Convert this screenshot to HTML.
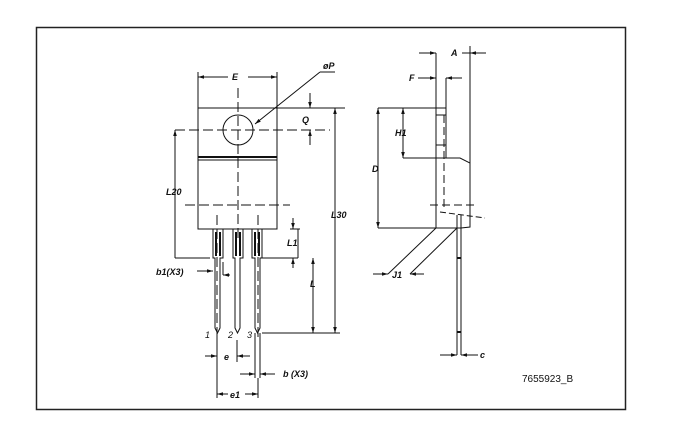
<!DOCTYPE html>
<html><head><style>body{margin:0;background:#fff}svg{display:block}text{font-family:"Liberation Sans",sans-serif;font-style:italic;font-weight:bold;font-size:9px;fill:#111}</style></head><body>
<svg width="677" height="438" viewBox="0 0 677 438" xmlns="http://www.w3.org/2000/svg">
<defs><marker id="a" viewBox="0 0 10 10" refX="10" refY="5" markerWidth="6" markerHeight="6" orient="auto-start-reverse"><path d="M0,2 L10,5 L0,8 z" fill="#111"/></marker></defs>
<rect x="36.5" y="27.5" width="589" height="382" fill="none" stroke="#222" stroke-width="1.5"/>
<g stroke="#111" stroke-width="1" fill="none">
<rect x="198" y="108" width="79" height="121"/>
<line x1="198" y1="157" x2="277" y2="157" stroke-width="2"/>
<line x1="198" y1="160" x2="277" y2="160"/>
<circle cx="238" cy="130" r="15"/>
<line x1="238" y1="88" x2="238" y2="240" stroke-dasharray="10,4"/>
<line x1="175" y1="130" x2="330" y2="130" stroke-dasharray="10,4"/>
<line x1="185" y1="205" x2="290" y2="205" stroke-dasharray="10,4"/>
<line x1="217" y1="215" x2="217" y2="340" stroke-dasharray="10,4"/>
<line x1="258" y1="215" x2="258" y2="340" stroke-dasharray="10,4"/>
<line x1="198" y1="72" x2="198" y2="108"/><line x1="277" y1="72" x2="277" y2="108"/>
<line x1="198" y1="77" x2="228" y2="77" marker-start="url(#a)"/><line x1="248" y1="77" x2="277" y2="77" marker-end="url(#a)"/>
<line x1="255" y1="124" x2="320" y2="72" marker-start="url(#a)"/><line x1="320" y1="72" x2="335" y2="72"/>
<line x1="277" y1="108" x2="345" y2="108"/>
<line x1="310" y1="93" x2="310" y2="108" marker-end="url(#a)"/><line x1="310" y1="145" x2="310" y2="130" marker-end="url(#a)"/>
<line x1="175" y1="130" x2="175" y2="258" marker-start="url(#a)"/>
<line x1="175" y1="258" x2="210" y2="258"/>
<line x1="335" y1="108" x2="335" y2="333" marker-start="url(#a)" marker-end="url(#a)"/>
<line x1="262" y1="333" x2="340" y2="333"/>
<path d="M213,229 V258 H215 V328 L217.5,333 L220,328 V258 H223 V229"/>
<path d="M233,229 V258 H235 V328 L237.5,333 L240,328 V258 H243 V229"/>
<path d="M252,229 V258 H255 V328 L257.5,333 L260,328 V258 H262 V229"/>
<line x1="216" y1="232" x2="216" y2="256" stroke-width="2"/><line x1="220" y1="232" x2="220" y2="256" stroke-width="2"/>
<line x1="236" y1="232" x2="236" y2="256" stroke-width="2"/><line x1="240" y1="232" x2="240" y2="256" stroke-width="2"/>
<line x1="255" y1="232" x2="255" y2="256" stroke-width="2"/><line x1="259" y1="232" x2="259" y2="256" stroke-width="2"/>
<line x1="262" y1="258" x2="298" y2="258"/>
<line x1="298" y1="229" x2="298" y2="258"/>
<line x1="290" y1="229" x2="300" y2="229"/>
<line x1="293" y1="218" x2="293" y2="229" marker-end="url(#a)"/><line x1="293" y1="268" x2="293" y2="258" marker-end="url(#a)"/>
<line x1="313" y1="258" x2="313" y2="333" marker-start="url(#a)" marker-end="url(#a)"/>
<line x1="197" y1="271" x2="213" y2="271" marker-end="url(#a)"/>
<line x1="223" y1="262" x2="223" y2="275"/><line x1="223" y1="275" x2="230" y2="275" marker-start="url(#a)"/>
<line x1="237" y1="340" x2="237" y2="362"/>
<line x1="205" y1="356" x2="217" y2="356" marker-end="url(#a)"/><line x1="250" y1="356" x2="237" y2="356" marker-end="url(#a)"/>
<line x1="255" y1="333" x2="255" y2="378"/><line x1="260" y1="333" x2="260" y2="378"/>
<line x1="240" y1="374" x2="255" y2="374" marker-end="url(#a)"/><line x1="275" y1="374" x2="260" y2="374" marker-end="url(#a)"/>
<line x1="217" y1="333" x2="217" y2="398"/><line x1="258" y1="378" x2="258" y2="398"/>
<line x1="217" y1="394" x2="228" y2="394" marker-start="url(#a)"/><line x1="245" y1="394" x2="258" y2="394" marker-end="url(#a)"/>
<path d="M436,53 V228 H461 L470,227 V163 L460,158 L446,158 V108"/>
<line x1="436" y1="108" x2="446" y2="108"/>
<line x1="446" y1="78" x2="446" y2="158"/>
<line x1="470" y1="46" x2="470" y2="163"/>
<line x1="444" y1="115" x2="444" y2="210" stroke-dasharray="8,4"/>
<line x1="436" y1="115" x2="446" y2="115"/><line x1="436" y1="145" x2="446" y2="145"/>
<line x1="430" y1="205" x2="478" y2="205" stroke-dasharray="8,4"/>
<line x1="440" y1="212" x2="485" y2="218" stroke-dasharray="6,3"/>
<line x1="457" y1="215" x2="457" y2="355"/><line x1="461" y1="215" x2="461" y2="355"/>
<line x1="457" y1="258" x2="461" y2="258" stroke-width="2"/><line x1="457" y1="332" x2="461" y2="332" stroke-width="2"/>
<line x1="419" y1="53" x2="436" y2="53" marker-end="url(#a)"/><line x1="486" y1="53" x2="470" y2="53" marker-end="url(#a)"/><line x1="462" y1="53" x2="470" y2="53"/>
<line x1="418" y1="78" x2="436" y2="78" marker-end="url(#a)"/><line x1="462" y1="78" x2="446" y2="78" marker-end="url(#a)"/>
<line x1="378" y1="108" x2="436" y2="108"/>
<line x1="378" y1="108" x2="378" y2="228" marker-start="url(#a)" marker-end="url(#a)"/>
<line x1="378" y1="228" x2="436" y2="228"/>
<line x1="403" y1="108" x2="403" y2="158" marker-start="url(#a)" marker-end="url(#a)"/>
<line x1="403" y1="158" x2="446" y2="158"/>
<line x1="436" y1="228" x2="388" y2="274"/><line x1="457" y1="228" x2="410" y2="274"/>
<line x1="373" y1="274" x2="388" y2="274" marker-end="url(#a)"/><line x1="424" y1="274" x2="410" y2="274" marker-end="url(#a)"/>
<line x1="440" y1="355" x2="457" y2="355" marker-end="url(#a)"/><line x1="478" y1="355" x2="461" y2="355" marker-end="url(#a)"/>
</g>
<text x="232" y="80">E</text>
<text x="323" y="69">øP</text>
<text x="302" y="123">Q</text>
<text x="166" y="195">L20</text>
<text x="331" y="218">L30</text>
<text x="287" y="246">L1</text>
<text x="310" y="287">L</text>
<text x="156" y="275">b1(X3)</text>
<text x="205" y="338" style="font-weight:normal">1</text>
<text x="228" y="338" style="font-weight:normal">2</text>
<text x="247" y="338" style="font-weight:normal">3</text>
<text x="224" y="360">e</text>
<text x="283" y="377">b  (X3)</text>
<text x="230" y="398">e1</text>
<text x="451" y="56">A</text>
<text x="409" y="81">F</text>
<text x="395" y="136">H1</text>
<text x="372" y="172">D</text>
<text x="392" y="278">J1</text>
<text x="480" y="358">c</text>
<text x="522" y="382" style="font-style:normal;font-weight:normal;font-size:10px">7655923_B</text>
</svg>
</body></html>
